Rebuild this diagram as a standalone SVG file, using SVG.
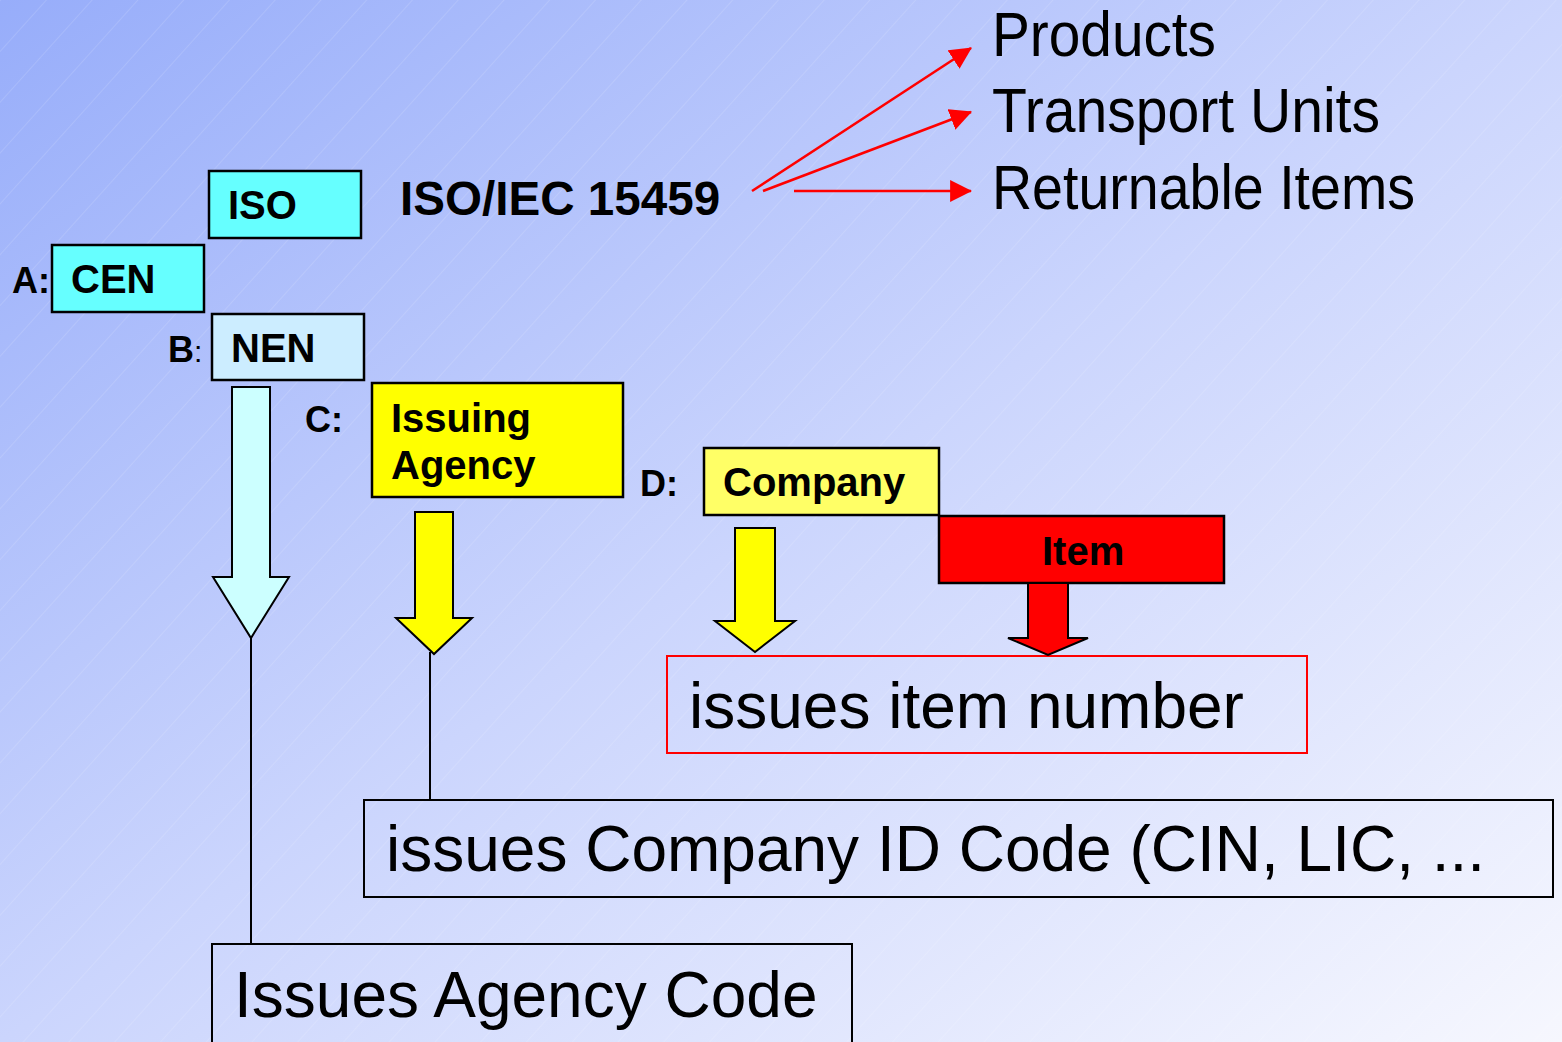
<svg xmlns="http://www.w3.org/2000/svg" width="1562" height="1042" viewBox="0 0 1562 1042">
  <defs>
    <linearGradient id="bg" x1="0" y1="0" x2="1" y2="1">
      <stop offset="0" stop-color="#97adfa"/>
      <stop offset="0.5" stop-color="#cbd5fd"/>
      <stop offset="1" stop-color="#f6f7fe"/>
    </linearGradient>
    <pattern id="hatch" width="34" height="34" patternUnits="userSpaceOnUse" patternTransform="rotate(-48)">
      <line x1="0" y1="0" x2="34" y2="0" stroke="#ffffff" stroke-opacity="0.25" stroke-width="1"/>
    </pattern>
    <marker id="rh" viewBox="0 0 20 20" refX="19" refY="10" markerWidth="22" markerHeight="22" markerUnits="userSpaceOnUse" orient="auto">
      <path d="M0,0 L20,10 L0,20 Z" fill="#ff0000"/>
    </marker>
  </defs>
  <style>
    .box { stroke: #000; stroke-width: 2.5; }
    .tbox { fill: none; stroke: #000; stroke-width: 2; }
    .lbl { font-family: "Liberation Sans", Arial, sans-serif; font-weight: bold; fill: #000; }
    .big { font-family: "Liberation Sans", Arial, sans-serif; font-size: 64px; fill: #000; }
    .cond { font-family: "Liberation Sans", Arial, sans-serif; font-size: 63px; fill: #000; }
    .barrow { stroke: #000; stroke-width: 2; stroke-linejoin: miter; }
    .conn { stroke: #000; stroke-width: 2; fill: none; }
    .rline { stroke: #ff0000; stroke-width: 2.5; fill: none; }
  </style>

  <rect x="0" y="0" width="1562" height="1042" fill="url(#bg)"/>
  <rect x="0" y="0" width="1562" height="1042" fill="url(#hatch)"/>

  <g id="labels">
    <text class="lbl" x="12" y="293" font-size="36">A:</text>
    <text class="lbl" x="168" y="362" font-size="36">B<tspan font-weight="normal" font-size="30">:</tspan></text>
    <text class="lbl" x="305" y="432" font-size="36">C:</text>
    <text class="lbl" x="640" y="496" font-size="36">D:</text>
  </g>

  <g id="iso">
    <rect class="box" x="209" y="171" width="152" height="67" fill="#66ffff"/>
    <text class="lbl" x="228" y="219" font-size="40">ISO</text>
  </g>
  <g id="cen">
    <rect class="box" x="52" y="245" width="152" height="67" fill="#66ffff"/>
    <text class="lbl" x="71" y="293" font-size="40">CEN</text>
  </g>
  <g id="nen">
    <rect class="box" x="212" y="314" width="152" height="66" fill="#ccedff"/>
    <text class="lbl" x="231" y="362" font-size="40">NEN</text>
  </g>
  <g id="issuing-agency">
    <rect class="box" x="372" y="383" width="251" height="114" fill="#ffff00"/>
    <text class="lbl" x="391" y="432" font-size="40">Issuing</text>
    <text class="lbl" x="391" y="479" font-size="40">Agency</text>
  </g>
  <g id="company">
    <rect class="box" x="704" y="448" width="235" height="67" fill="#ffff66"/>
    <text class="lbl" x="723" y="496" font-size="40">Company</text>
  </g>
  <g id="item">
    <rect class="box" x="939" y="516" width="285" height="67" fill="#ff0000"/>
    <text class="lbl" x="1042" y="565" font-size="40">Item</text>
  </g>

  <g id="standard">
    <text class="lbl" x="400" y="215" font-size="47.6">ISO/IEC 15459</text>
  </g>

  <g id="targets">
    <text class="cond" x="992" y="56" textLength="224" lengthAdjust="spacingAndGlyphs">Products</text>
    <text class="cond" x="992" y="132" textLength="388" lengthAdjust="spacingAndGlyphs">Transport Units</text>
    <text class="cond" x="992" y="209" textLength="423" lengthAdjust="spacingAndGlyphs">Returnable Items</text>
  </g>

  <g id="item-number">
    <rect x="667" y="656" width="640" height="97" fill="none" stroke="#ff0000" stroke-width="2"/>
    <text class="big" x="689" y="728">issues item number</text>
  </g>
  <g id="company-id">
    <rect class="tbox" x="364" y="800" width="1189" height="97"/>
    <text class="big" x="386" y="871">issues Company ID Code (CIN, LIC, ...</text>
  </g>
  <g id="agency-code">
    <rect class="tbox" x="212" y="944" width="640" height="110"/>
    <text class="big" x="234" y="1017">Issues Agency Code</text>
  </g>

  <g id="connectors">
    <line class="rline" x1="752" y1="191" x2="971" y2="48" marker-end="url(#rh)"/>
    <line class="rline" x1="763" y1="191" x2="971" y2="112" marker-end="url(#rh)"/>
    <line class="rline" x1="794" y1="191" x2="971" y2="191" marker-end="url(#rh)"/>

    <path class="barrow" fill="#ccffff" d="M232,387 L270,387 L270,577 L289,577 L251,638 L213,577 L232,577 Z"/>
    <line class="conn" x1="251" y1="638" x2="251" y2="944"/>

    <path class="barrow" fill="#ffff00" d="M415,512 L453,512 L453,618 L472,618 L434,654 L396,618 L415,618 Z"/>
    <line class="conn" x1="430" y1="652" x2="430" y2="800"/>

    <path class="barrow" fill="#ffff00" d="M735,528 L775,528 L775,621 L795,621 L755,652 L715,621 L735,621 Z"/>

    <path class="barrow" fill="#ff0000" d="M1028,583 L1068,583 L1068,638 L1088,638 L1048,655 L1008,638 L1028,638 Z"/>
  </g>
</svg>
